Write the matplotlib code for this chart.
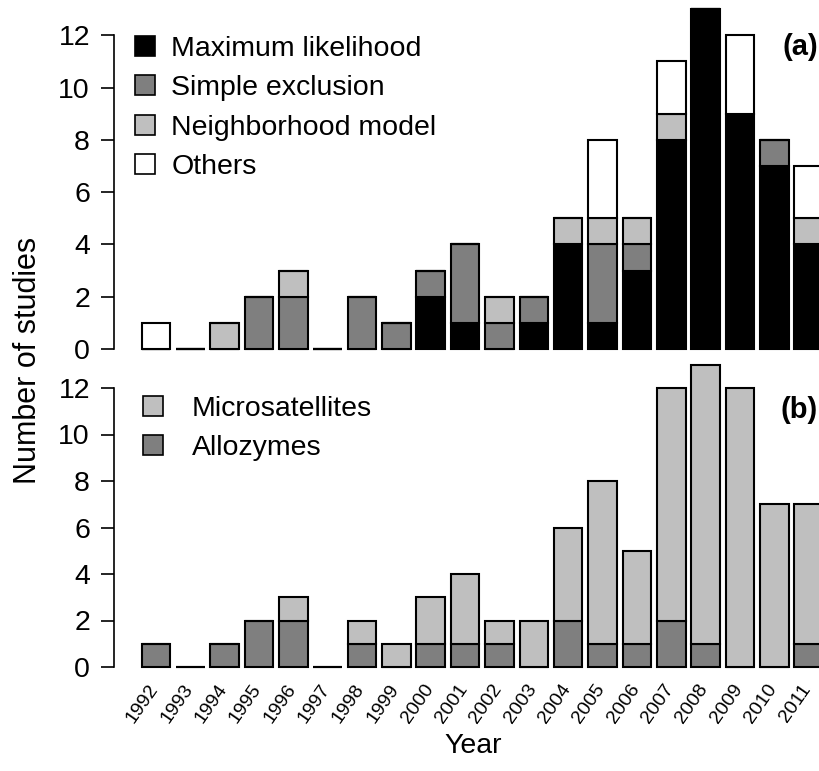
import numpy as np
import matplotlib.pyplot as plt
from matplotlib.patches import Patch

plt.rcParams['font.family'] = ['Liberation Sans', 'DejaVu Sans']

years = list(range(1992, 2012))

# panel (a): method used
max_lik = [0, 0, 0, 0, 0, 0, 0, 0, 2, 1, 0, 1, 4, 1, 3, 8, 13, 9, 7, 4]
simple_excl = [0, 0, 0, 2, 2, 0, 2, 1, 1, 3, 1, 1, 0, 3, 1, 0, 0, 0, 1, 0]
neighborhood = [0, 0, 1, 0, 1, 0, 0, 0, 0, 0, 1, 0, 1, 1, 1, 1, 0, 0, 0, 1]
others = [1, 0, 0, 0, 0, 0, 0, 0, 0, 0, 0, 0, 0, 3, 0, 2, 0, 3, 0, 2]

# panel (b): marker type
allozymes = [1, 0, 1, 2, 2, 0, 1, 0, 1, 1, 1, 0, 2, 1, 1, 2, 1, 0, 0, 1]
microsat = [0, 0, 0, 0, 1, 0, 1, 1, 2, 3, 1, 2, 4, 7, 4, 10, 12, 12, 7, 6]

W, H = 819, 771
fig = plt.figure(figsize=(W / 100, H / 100), dpi=100)

# bar positions like R's barplot (width 1, space 0.2)
x = 0.7 + 1.2 * np.arange(len(years))
px_per_unit = 28.62
x0_px = 136.0
xlim = (-0.76, 25.16)
ax_left = (x0_px + xlim[0] * px_per_unit) / W
ax_width = (xlim[1] - xlim[0]) * px_per_unit / W


def make_axes(zero_px, unit_px, top_px):
    bottom_px = zero_px + 0.52 * unit_px
    ax = fig.add_axes([ax_left, 1 - bottom_px / H, ax_width, (bottom_px - top_px) / H])
    ax.set_xlim(*xlim)
    ax.set_ylim(-0.52, (zero_px - top_px) / unit_px)
    ax.patch.set_visible(False)
    for s in ['top', 'right', 'bottom']:
        ax.spines[s].set_visible(False)
    ax.spines['left'].set_bounds(0, 12)
    ax.spines['left'].set_linewidth(1.2)
    ax.set_yticks(range(0, 13, 2))
    ax.tick_params(axis='y', length=9.5, width=1.2, pad=8, labelsize=20.5)
    ax.set_xticks([])
    return ax


bar_kw = dict(width=1.0, edgecolor='black', linewidth=1.5)

ax1 = make_axes(349, 26.15, 0)
bottom = np.zeros(len(years))
for vals, col in [(max_lik, 'black'), (simple_excl, '#7f7f7f'),
                  (neighborhood, '#bfbfbf'), (others, 'white')]:
    ax1.bar(x, vals, bottom=bottom, color=col, **bar_kw)
    bottom += np.array(vals)

ax2 = make_axes(667, 23.25, 360)
bottom = np.zeros(len(years))
for vals, col in [(allozymes, '#7f7f7f'), (microsat, '#bfbfbf')]:
    ax2.bar(x, vals, bottom=bottom, color=col, **bar_kw)
    bottom += np.array(vals)

# year labels under panel (b)
for xi, yr in zip(x, years):
    ax2.annotate(str(yr), xy=(xi, 0), xycoords='data', xytext=(-1, -19),
                 textcoords='offset pixels', rotation=55, rotation_mode='anchor',
                 ha='right', va='center', fontsize=14)

leg_a = [Patch(facecolor=c, edgecolor='black', linewidth=1.2, label=l) for c, l in
         [('black', 'Maximum likelihood'), ('#7f7f7f', 'Simple exclusion'),
          ('#bfbfbf', 'Neighborhood model'), ('white', 'Others')]]
fig.legend(handles=leg_a, loc='upper left', bbox_to_anchor=(135 / W, 1 - 36 / H),
           frameon=False, fontsize=20.5, handlelength=0.7, handleheight=0.7,
           handletextpad=0.58, labelspacing=0.47, borderpad=0, borderaxespad=0)

leg_b = [Patch(facecolor=c, edgecolor='black', linewidth=1.2, label=l) for c, l in
         [('#bfbfbf', 'Microsatellites'), ('#7f7f7f', 'Allozymes')]]
fig.legend(handles=leg_b, loc='upper left', bbox_to_anchor=(143 / W, 1 - 396 / H),
           frameon=False, fontsize=20.5, handlelength=0.7, handleheight=0.7,
           handletextpad=1.02, labelspacing=0.45, borderpad=0, borderaxespad=0)

fig.text(818 / W, 1 - 47 / H, '(a)', ha='right', va='center', fontsize=21, fontweight='bold')
fig.text(818 / W, 1 - 410 / H, '(b)', ha='right', va='center', fontsize=21, fontweight='bold')

fig.text(28 / W, 1 - 360 / H, 'Number of studies', rotation=90, ha='center', va='center', fontsize=22)
fig.text(473 / W, 1 - 746 / H, 'Year', ha='center', va='center', fontsize=20.5)

fig.savefig('out.png', dpi=100)
